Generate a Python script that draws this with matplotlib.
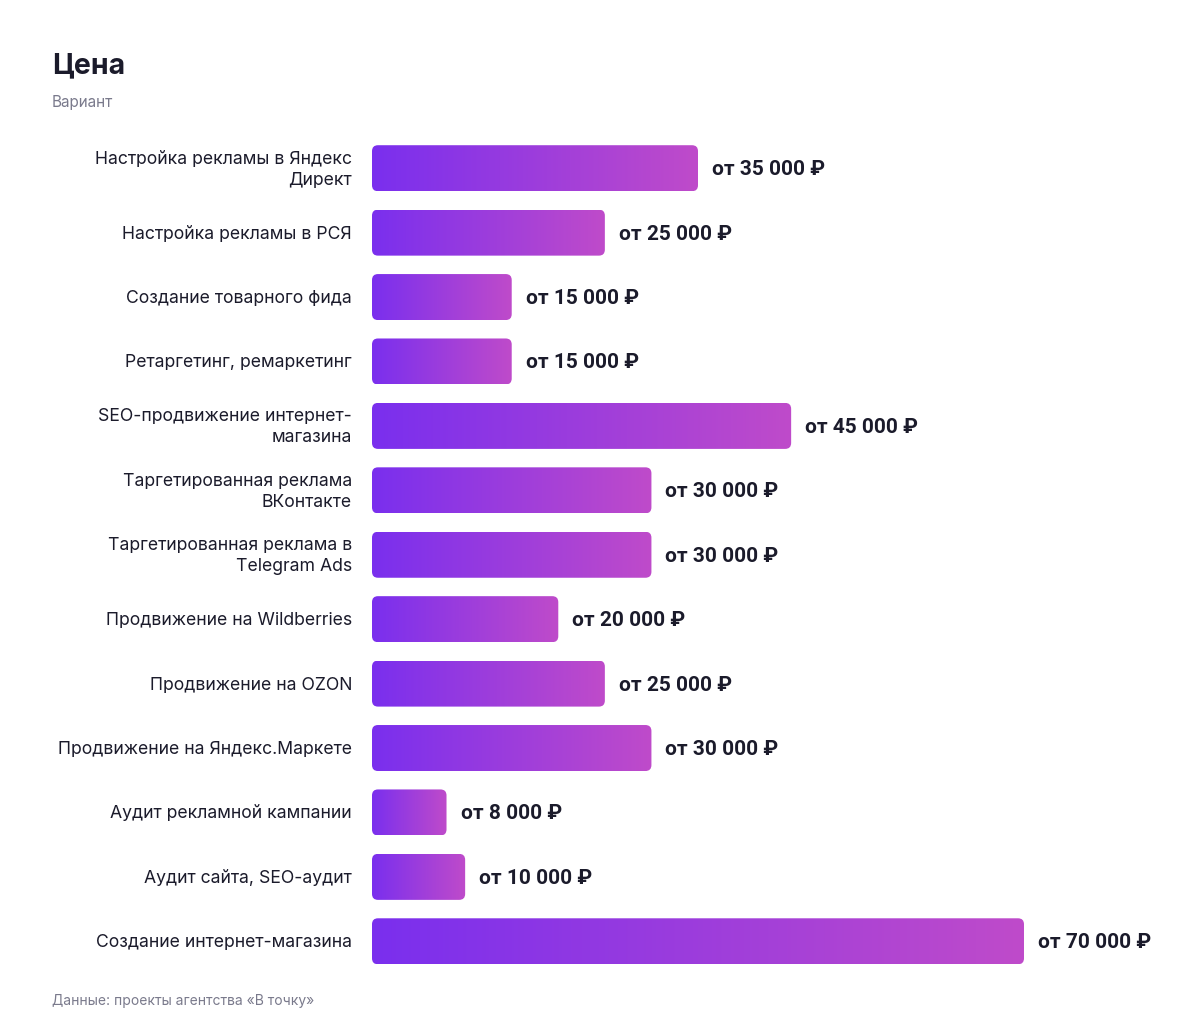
import numpy as np
import matplotlib
matplotlib.use("Agg")
from matplotlib import pyplot as plt
from matplotlib.colors import LinearSegmentedColormap
from matplotlib.patches import FancyBboxPatch

TITLE = "Цена"
SUBTITLE = "Вариант"
SOURCE = "Данные: проекты агентства «В точку»"

services = [
    "Настройка рекламы в Яндекс\nДирект",
    "Настройка рекламы в РСЯ",
    "Создание товарного фида",
    "Ретаргетинг, ремаркетинг",
    "SEO-продвижение интернет-\nмагазина",
    "Таргетированная реклама\nВКонтакте",
    "Таргетированная реклама в\nTelegram Ads",
    "Продвижение на Wildberries",
    "Продвижение на OZON",
    "Продвижение на Яндекс.Маркете",
    "Аудит рекламной кампании",
    "Аудит сайта, SEO-аудит",
    "Создание интернет-магазина",
]
prices = [35000, 25000, 15000, 15000, 45000, 30000, 30000,
          20000, 25000, 30000, 8000, 10000, 70000]

plt.rcParams["font.family"] = ["Inter", "DejaVu Sans"]

W, H = 1200, 1032
fig = plt.figure(figsize=(W / 100, H / 100), dpi=100)
fig.patch.set_facecolor("white")

# axes placed in pixel terms: left edge = zero of bars
left, right, top, bottom = 372, 1200, 136, 973.5
ax = fig.add_axes([left / W, 1 - bottom / H, (right - left) / W, (bottom - top) / H])
x_max = 70000 * (right - left) / (1024 - left)
n = len(services)
ax.set_xlim(0, x_max)
ax.set_ylim(n - 0.5, -0.5)
ax.axis("off")

cmap = LinearSegmentedColormap.from_list("grad", ["#7A2FEE", "#BF4BCA"])
grad = np.linspace(0, 1, 256).reshape(1, -1)

px_x = x_max / (right - left)        # data units per pixel along x
px_y = n / (bottom - top)            # data units per pixel along y
bar_h = 46 * px_y
radius = 6 * px_x

for i, (name, v) in enumerate(zip(services, prices)):
    patch = FancyBboxPatch((0, i - bar_h / 2), v, bar_h,
                           boxstyle="round,pad=0,rounding_size=%f" % radius,
                           mutation_aspect=px_y / px_x,
                           facecolor="none", edgecolor="none")
    ax.add_patch(patch)
    im = ax.imshow(grad, cmap=cmap, aspect="auto",
                   extent=[0, v, i + bar_h / 2, i - bar_h / 2],
                   interpolation="bilinear")
    im.set_clip_path(patch)
    price_txt = "от {:,} ₽".format(v).replace(",", " ")
    ax.text(v + 14 * px_x, i + 1.5 * px_y, price_txt, va="center", ha="left",
            fontsize=15, fontweight="bold", color="#1B1B2B",
            family=["Roboto", "DejaVu Sans"])
    ax.text(-20 * px_x, i + 1.5 * px_y, name, va="center", ha="right",
            fontsize=12.7, color="#1B1B2B", linespacing=1.3)

ax.set_xlim(0, x_max)
ax.set_ylim(n - 0.5, -0.5)

fig.text(52 / W, 1 - 66 / H, TITLE, fontsize=20.5, fontweight="bold",
         color="#1B1B2B", va="center", ha="left")
fig.text(52 / W, 1 - 103 / H, SUBTITLE, fontsize=11, color="#7A7A8C",
         va="center", ha="left")
fig.text(52 / W, 1 - 1001 / H, SOURCE, fontsize=10, color="#7A7A8C",
         va="center", ha="left")

fig.savefig("out.png", dpi=100, facecolor="white")
